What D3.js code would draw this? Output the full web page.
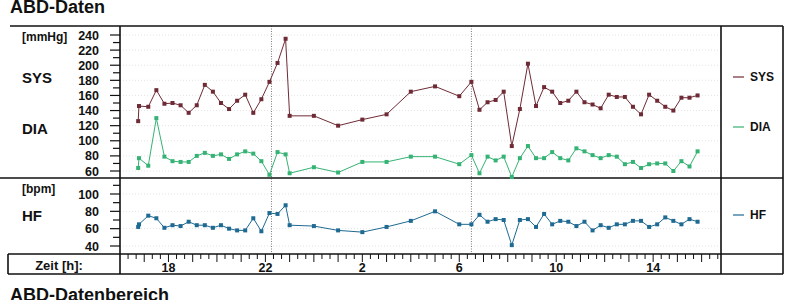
<!DOCTYPE html>
<html>
<head>
<meta charset="utf-8">
<script src="https://cdn.jsdelivr.net/npm/d3@7"></script>
<style>
  body { margin: 0; background: #fff; }
  svg text { font-family: "Liberation Sans", Arial, sans-serif; font-weight: bold; fill: #111; }
</style>
</head>
<body>
<div id="chart"></div>
<script>
// ── DATA ───────────────────────────────────────────────────────────────
const times = ["16:45","16:47","17:10","17:30","17:50","18:10","18:30","18:50","19:10","19:30",
  "19:50","20:10","20:30","20:50","21:10","21:30","21:50","22:10","22:30","22:50",
  "23:00","00:00","01:00","02:00","03:00","04:00","05:00","06:00","06:30","06:50",
  "07:10","07:30","07:50","08:10","08:30","08:50","09:10","09:30","09:50","10:10",
  "10:30","10:50","11:10","11:30","11:50","12:10","12:30","12:50","13:10","13:30",
  "13:50","14:10","14:30","14:50","15:10","15:30","15:50"];
const sys = [126,146,145,167,149,150,147,137,147,174, 165,150,142,153,161,137,155,178,203,235,
  133,133,120,128,135,165,172,159,178,141, 151,154,165,93,142,202,146,171,165,150,
  153,165,151,148,143,161,158,158,145,135, 161,153,145,140,157,157,160];
const dia = [64,77,67,130,79,73,72,72,80,84, 80,82,76,82,86,83,73,55,85,82,
  57,65,58,72,72,79,79,69,81,57, 79,74,79,52,77,93,77,77,85,77,
  74,90,86,81,77,81,79,69,72,64, 69,70,70,60,73,66,86];
const hf = [62,65,75,72,61,64,63,68,64,64, 61,64,60,58,58,72,57,78,77,87,
  64,63,58,56,62,69,80,65,65,76, 68,71,70,41,70,71,62,77,65,69,
  68,63,68,58,64,61,65,65,69,69, 62,65,73,69,65,71,68];
const nightMarks = ["22:15", "06:30"];
const hourLabels = [18, 22, 2, 6, 10, 14];

(function () {
  const width = 800, height = 300;
  const plotL = 120, plotR = 721, legR = 783;
  const top = 26, midY = 178, hfBottom = 254, bottom = 274;

  const C_SYS = "#6f2b35", C_DIA = "#35b374", C_HF = "#1f6a92";

  const svg = d3.select("#chart").append("svg")
    .attr("width", width).attr("height", height);

  // hours since 16:00 on day one
  const toH = s => {
    const [hh, mm] = s.split(":").map(Number);
    let h = hh + mm / 60 - 16;
    return h < 0 ? h + 24 : h;
  };

  // ── SCALES ─────────────────────────────────────────────────────────────
  const x = d3.scaleLinear().domain([0, 24.8]).range([plotL, plotR]);
  const yBp = d3.scaleLinear().domain([60, 240]).range([171, 35]);
  const yHf = d3.scaleLinear().domain([40, 100]).range([246, 194]);

  // ── FAINT GRID ─────────────────────────────────────────────────────────
  const grid = svg.append("g").attr("stroke", "#e4e4e4").attr("stroke-dasharray", "1,2");
  grid.selectAll(".gb").data(d3.range(60, 241, 20)).enter().append("line")
    .attr("x1", plotL).attr("x2", plotR)
    .attr("y1", d => yBp(d)).attr("y2", d => yBp(d));
  grid.selectAll(".gh").data(d3.range(40, 101, 20)).enter().append("line")
    .attr("x1", plotL).attr("x2", plotR)
    .attr("y1", d => yHf(d)).attr("y2", d => yHf(d));

  // night period markers
  svg.selectAll(".night").data(nightMarks).enter().append("line")
    .attr("x1", d => x(toH(d))).attr("x2", d => x(toH(d)))
    .attr("y1", top).attr("y2", hfBottom)
    .attr("stroke", "#555").attr("stroke-width", 0.8).attr("stroke-dasharray", "1,1.5");

  // ── FRAME ──────────────────────────────────────────────────────────────
  const frame = svg.append("g").attr("stroke", "#111").attr("stroke-width", 1.6);
  [[10, top, legR, top], [0, midY, legR, midY], [8, hfBottom, legR, hfBottom], [8, bottom, legR, bottom],
   [8, hfBottom, 8, bottom], [plotL, top, plotL, bottom], [plotR, top, plotR, bottom], [legR, top, legR, bottom]]
    .forEach(l => frame.append("line")
      .attr("x1", l[0]).attr("y1", l[1]).attr("x2", l[2]).attr("y2", l[3]));

  // ── Y AXES ─────────────────────────────────────────────────────────────
  function yAxis(scale, ticks, labels) {
    const g = svg.append("g");
    g.selectAll("line").data(ticks).enter().append("line")
      .attr("x1", d => labels.includes(d) ? 110 : 113).attr("x2", plotL)
      .attr("y1", d => scale(d)).attr("y2", d => scale(d))
      .attr("stroke", "#111").attr("stroke-width", 1.2);
    g.selectAll("text").data(labels).enter().append("text")
      .attr("x", 99).attr("y", d => scale(d)).attr("dy", "0.36em")
      .attr("text-anchor", "end").style("font-size", "12.5px")
      .text(d => d);
  }
  yAxis(yBp, d3.range(60, 241, 10), d3.range(60, 241, 20));
  yAxis(yHf, d3.range(40, 111, 10), d3.range(40, 101, 20));

  // ── TIME AXIS ──────────────────────────────────────────────────────────
  const tickH = d3.range(1 / 3, 24.8, 1 / 3);
  svg.append("g").selectAll("line").data(tickH).enter().append("line")
    .attr("x1", d => x(d)).attr("x2", d => x(d))
    .attr("y1", hfBottom)
    .attr("y2", d => Math.abs(d - Math.round(d)) < 0.01 ? hfBottom + 8 : hfBottom + 5)
    .attr("stroke", "#111").attr("stroke-width", 1);
  svg.append("g").selectAll("text").data(hourLabels).enter().append("text")
    .attr("x", d => x(toH(d + ":00"))).attr("y", 272)
    .attr("text-anchor", "middle").style("font-size", "12.5px")
    .text(d => d);

  // ── LABELS ─────────────────────────────────────────────────────────────
  const label = (t, lx, ly, size, anchor) => svg.append("text")
    .attr("x", lx).attr("y", ly).attr("dy", "0.36em")
    .attr("text-anchor", anchor || "start").style("font-size", size + "px").text(t);
  svg.append("text").attr("x", 10).attr("y", 13).style("font-size", "18px").text("ABD-Daten");
  svg.append("text").attr("x", 10).attr("y", 301).style("font-size", "18px").text("ABD-Datenbereich");
  label("[mmHg]", 22, 37, 12);
  label("SYS", 22, 78, 15);
  label("DIA", 22, 129, 15);
  label("[bpm]", 22, 189, 12);
  label("HF", 22, 216, 15);
  label("Zeit [h]:", 59, 265, 13, "middle");

  // ── SERIES ─────────────────────────────────────────────────────────────
  const hs = times.map(toH);
  function series(vals, scale, color) {
    const pts = vals.map((v, i) => [x(hs[i]), scale(v)]);
    svg.append("path").attr("d", d3.line()(pts))
      .attr("fill", "none").attr("stroke", color).attr("stroke-width", 1);
    svg.append("g").selectAll("rect").data(pts).enter().append("rect")
      .attr("x", d => d[0] - 2).attr("y", d => d[1] - 2)
      .attr("width", 4).attr("height", 4).attr("fill", color);
  }
  series(sys, yBp, C_SYS);
  series(dia, yBp, C_DIA);
  series(hf, yHf, C_HF);

  // ── LEGEND ─────────────────────────────────────────────────────────────
  [["SYS", C_SYS, 77], ["DIA", C_DIA, 127], ["HF", C_HF, 215]].forEach(([name, col, ly]) => {
    svg.append("line").attr("x1", 733).attr("x2", 744).attr("y1", ly).attr("y2", ly)
      .attr("stroke", col).attr("stroke-width", 1.2);
    label(name, 750, ly, 12);
  });
})();
</script>
</body>
</html>
